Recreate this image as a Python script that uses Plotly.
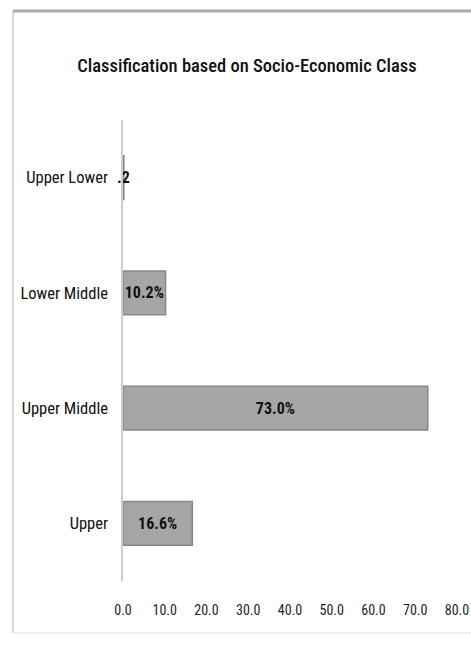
import plotly.graph_objects as go

# Socio-economic class distribution (percent of respondents), listed top to bottom
classes = ["Upper Lower", "Lower Middle", "Upper Middle", "Upper"]
shares = [0.2, 10.2, 73.0, 16.6]
bar_text = [".2", "10.2%", "73.0%", "16.6%"]
x_ticks = [0, 10, 20, 30, 40, 50, 60, 70, 80]

FONT = "Roboto Condensed, DejaVu Sans Condensed, sans-serif"

W, H = 471, 645
L, R, T, B = 123, 14, 120, 64
plot_w = W - L - R
plot_h = H - T - B


def px_to_paper_x(px):
    return (px - L) / plot_w


def px_to_paper_y(py):
    return (H - B - py) / plot_h


fig = go.Figure(
    go.Bar(
        x=shares,
        y=classes,
        orientation="h",
        marker=dict(color="#a6a6a6", line=dict(color="#888888", width=1.5)),
        text=bar_text,
        textposition="inside",
        textangle=0,
        insidetextanchor="middle",
        constraintext="none",
        cliponaxis=False,
        textfont=dict(family=FONT, size=16, color="#111111", weight="bold"),
        width=0.38,
    )
)

# Chart frame: heavy top edge, thin left and bottom edges
frame = [
    dict(x0=px_to_paper_x(13), x1=px_to_paper_x(480), y0=px_to_paper_y(11), y1=px_to_paper_y(11),
         line=dict(color="#a9a9a9", width=3)),
    dict(x0=px_to_paper_x(13), x1=px_to_paper_x(13), y0=px_to_paper_y(11), y1=px_to_paper_y(633),
         line=dict(color="#bdbdbd", width=1.2)),
    dict(x0=px_to_paper_x(13), x1=px_to_paper_x(480), y0=px_to_paper_y(633), y1=px_to_paper_y(633),
         line=dict(color="#dedede", width=1)),
]
for s in frame:
    fig.add_shape(type="line", xref="paper", yref="paper", layer="above", **s)

fig.update_layout(
    width=W,
    height=H,
    margin=dict(l=L, r=R, t=T, b=B, autoexpand=False),
    paper_bgcolor="white",
    plot_bgcolor="white",
    showlegend=False,
    title=dict(
        text="Classification based on Socio-Economic Class",
        x=247 / W,
        xanchor="center",
        y=1 - 66 / H,
        yanchor="middle",
        font=dict(family=FONT, size=18.5, color="#111111", weight=500),
    ),
    xaxis=dict(
        range=[0, 80],
        tickvals=x_ticks,
        tickformat=".1f",
        showgrid=False,
        zeroline=False,
        showline=False,
        ticks="",
        automargin=False,
        ticklabelstandoff=19,
        tickfont=dict(family=FONT, size=14, color="#1e1e1e"),
    ),
    yaxis=dict(
        categoryorder="array",
        categoryarray=classes,
        autorange="reversed",
        showgrid=False,
        zeroline=False,
        showline=True,
        linecolor="#cccccc",
        linewidth=1.5,
        ticks="",
        automargin=False,
        ticklabelstandoff=10,
        tickfont=dict(family=FONT, size=16.5, color="#111111"),
    ),
)

fig.write_html("out.html")
